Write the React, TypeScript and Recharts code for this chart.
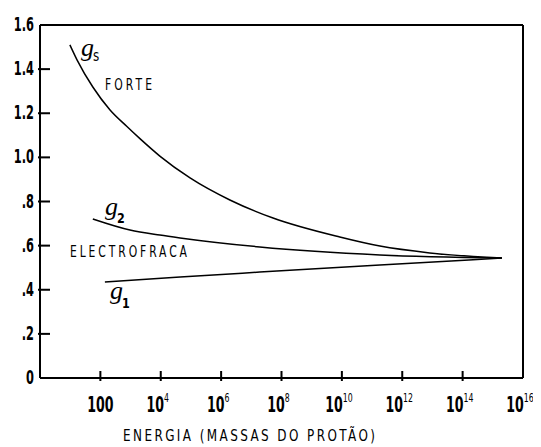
import React from 'react';
import { LineChart, Line, XAxis, YAxis, ReferenceLine } from 'recharts';

// energy readings are log10 of energy (proton masses)
const gsLogEnergy = [0.99, 1.23, 1.75, 2.32, 2.88, 3.31, 3.97, 4.97, 6.29, 7.72, 9.93, 11.26, 12.91, 15.3];
const gsCoupling = [1.51, 1.441, 1.319, 1.215, 1.14, 1.085, 1.006, 0.907, 0.807, 0.725, 0.639, 0.598, 0.567, 0.544];

const g2LogEnergy = [1.75, 2.98, 3.97, 4.64, 7.28, 11.26, 15.3];
const g2Coupling = [0.721, 0.671, 0.648, 0.635, 0.594, 0.558, 0.544];

const g1LogEnergy = [2.15, 4.64, 7.28, 11.26, 15.3];
const g1Coupling = [0.435, 0.458, 0.48, 0.512, 0.544];

const xTickExponents = [2, 4, 6, 8, 10, 12, 14, 16];
const xTickLabels = ['100', '10|4', '10|6', '10|8', '10|10', '10|12', '10|14', '10|16'];
const yTicks = [0, 0.2, 0.4, 0.6, 0.8, 1.0, 1.2, 1.4, 1.6];
const yTickLabels = ['0', '.2', '.4', '.6', '.8', '1.0', '1.2', '1.4', '1.6'];

const xTitle = 'ENERGIA (MASSAS DO PROTÃO)';

const build = (logs: number[], vals: number[]) =>
  logs.map((e, i) => ({ x: Math.pow(10, e), y: vals[i] }));

const gsData = build(gsLogEnergy, gsCoupling);
const g2Data = build(g2LogEnergy, g2Coupling);
const g1Data = build(g1LogEnergy, g1Coupling);
const xTicks = xTickExponents.map((e) => Math.pow(10, e));

const SANS = '"DejaVu Sans", "Liberation Sans", sans-serif';
const SERIF = '"Liberation Serif", "DejaVu Serif", serif';

const NText = (p: any) => {
  const { x, y, sx = 0.72, children, ...rest } = p;
  return (
    <text transform={`translate(${x},${y}) scale(${sx},1)`} x={0} y={0} fontFamily={SANS} fill="#000" {...rest}>
      {children}
    </text>
  );
};

const renderXTick = (props: any) => {
  const x = Number(props.x);
  const y = Number(props.y);
  const payload = props.payload;
  const idx = xTicks.findIndex((t) => Math.abs(Math.log10(t) - Math.log10(payload.value)) < 1e-6);
  const label = idx >= 0 ? xTickLabels[idx] : '';
  const parts = label.split('|');
  return (
    <g key={`xt-${idx}`}>
      {idx < xTicks.length - 1 ? <rect x={x - 1} y={y - 7} width={2} height={10} fill="#000" /> : null}
      <NText x={parts[1] ? x - 3 : x} y={y + 34} sx={0.6} textAnchor="middle" fontSize={21} fontWeight="bold">
        <tspan>{parts[0]}</tspan>
        {parts[1] ? (
          <tspan dy={-10} fontSize={13} fontWeight="normal">{parts[1]}</tspan>
        ) : null}
      </NText>
    </g>
  );
};

const renderYTick = (props: any) => {
  const x = Number(props.x);
  const y = Number(props.y);
  const payload = props.payload;
  const idx = yTicks.findIndex((t) => Math.abs(t - payload.value) < 1e-6);
  const label = idx >= 0 ? yTickLabels[idx] : '';
  const inner = idx > 0 && idx < yTicks.length - 1;
  return (
    <g key={`yt-${idx}`}>
      {inner ? <rect x={x - 2} y={y - 1} width={12} height={2} fill="#000" /> : null}
      <NText x={x - 6} y={y + 6} sx={0.6} textAnchor="end" fontSize={19} fontWeight="bold">
        {label}
      </NText>
    </g>
  );
};

export default function App() {
  return (
    <div style={{ width: 533, height: 439, background: '#fff' }}>
      <LineChart width={533} height={439} margin={{ top: 17, right: 18, bottom: 0, left: 0 }}>
        <XAxis
          dataKey="x"
          type="number"
          scale="log"
          domain={[1, 1e16]}
          ticks={xTicks}
          allowDataOverflow
          height={69}
          tickSize={0}
          tickMargin={0}
          tickLine={false}
          axisLine={{ stroke: '#000', strokeWidth: 2 }}
          tick={renderXTick}
          interval={0}
        />
        <YAxis
          dataKey="y"
          type="number"
          domain={[0, 1.6]}
          ticks={yTicks}
          width={32}
          tickSize={0}
          tickMargin={0}
          tickLine={false}
          axisLine={{ stroke: '#000', strokeWidth: 2 }}
          tick={renderYTick}
          interval={0}
        />
        <ReferenceLine y={1.6} stroke="#000" strokeWidth={2} />
        <ReferenceLine x={1e16} stroke="#000" strokeWidth={2} />
        <Line data={gsData} dataKey="y" type="monotone" stroke="#000" strokeWidth={1.5} dot={false} isAnimationActive={false} />
        <Line data={g2Data} dataKey="y" type="monotone" stroke="#000" strokeWidth={1.5} dot={false} isAnimationActive={false} />
        <Line data={g1Data} dataKey="y" type="monotone" stroke="#000" strokeWidth={1.5} dot={false} isAnimationActive={false} />
        <NText x={241} y={433} sx={0.8} textAnchor="middle" fontSize={15} textLength={315} lengthAdjust="spacing">
          {xTitle}
        </NText>
        <text x={73} y={48} fontFamily={SERIF} fontStyle="italic" fontSize={26} fill="#000">g</text>
        <NText x={85} y={53} sx={0.8} fontSize={15}>s</NText>
        <NText x={97} y={82} sx={0.72} fontSize={15} textLength={47 / 0.72} lengthAdjust="spacing">FORTE</NText>
        <text x={97} y={207} fontFamily={SERIF} fontStyle="italic" fontSize={26} fill="#000">g</text>
        <NText x={109} y={215} sx={0.8} fontWeight="bold" fontSize={14}>2</NText>
        <NText x={62} y={249} sx={0.72} fontSize={15} textLength={117 / 0.72} lengthAdjust="spacing">ELECTROFRACA</NText>
        <text x={102} y={291} fontFamily={SERIF} fontStyle="italic" fontSize={26} fill="#000">g</text>
        <NText x={114} y={300} sx={0.8} fontWeight="bold" fontSize={14}>1</NText>
      </LineChart>
    </div>
  );
}
